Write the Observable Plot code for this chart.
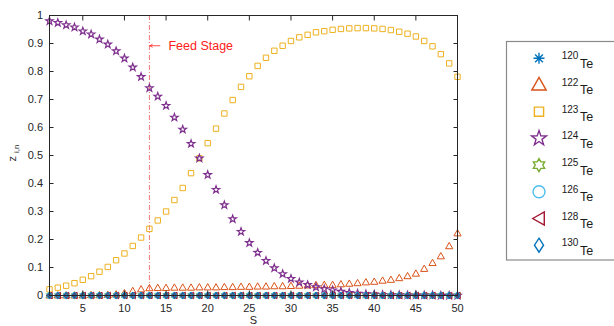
<!DOCTYPE html>
<html><head><meta charset="utf-8">
<script src="https://cdn.jsdelivr.net/npm/d3@7"></script>
<script src="https://cdn.jsdelivr.net/npm/@observablehq/plot@0.6"></script>
<style>
body{margin:0;background:#fff;}
#chart{position:relative;width:614px;height:326px;overflow:hidden;}
</style></head><body><div id="chart"></div>
<script>
const stages = [1,2,3,4,5,6,7,8,9,10,11,12,13,14,15,16,17,18,19,20,21,22,23,24,25,26,27,28,29,30,31,32,33,34,35,36,37,38,39,40,41,42,43,44,45,46,47,48,49,50];
const te120 = [0,0,0,0,0,0,0,0,0,0,0,0,0,0,0,0,0,0,0,0,0,0,0,0,0,0,0,0,0,0,0,0,0,0,0,0,0,0,0,0,0,0,0,0,0,0,0,0,0,0];
const te122 = [0,0,0,0,0,0.001,0.001,0.002,0.004,0.008,0.016,0.022,0.026,0.027,0.027,0.028,0.028,0.028,0.029,0.029,0.029,0.030,0.030,0.031,0.031,0.032,0.032,0.033,0.033,0.034,0.035,0.036,0.037,0.038,0.038,0.040,0.042,0.044,0.047,0.049,0.053,0.056,0.062,0.069,0.078,0.095,0.116,0.140,0.176,0.222];
const te123 = [0.022,0.028,0.035,0.044,0.056,0.069,0.085,0.102,0.126,0.150,0.177,0.207,0.238,0.268,0.300,0.341,0.384,0.437,0.490,0.544,0.596,0.650,0.698,0.745,0.783,0.820,0.849,0.874,0.892,0.909,0.922,0.931,0.940,0.944,0.949,0.952,0.954,0.955,0.955,0.954,0.952,0.948,0.942,0.935,0.925,0.909,0.890,0.862,0.829,0.781];
const te124 = [0.980,0.974,0.966,0.958,0.944,0.933,0.915,0.897,0.873,0.847,0.815,0.781,0.741,0.711,0.678,0.636,0.593,0.542,0.490,0.431,0.378,0.323,0.273,0.228,0.188,0.153,0.124,0.098,0.077,0.060,0.047,0.038,0.030,0.023,0.019,0.014,0.010,0.007,0.005,0.004,0.003,0.002,0.002,0.001,0.001,0.001,0.001,0,0,0];
const te125 = [0,0,0,0,0,0,0,0,0,0,0,0,0,0,0,0,0,0,0,0,0,0,0,0,0,0,0,0,0,0,0,0,0,0,0,0,0,0,0,0,0,0,0,0,0,0,0,0,0,0];
const te126 = [0,0,0,0,0,0,0,0,0,0,0,0,0,0,0,0,0,0,0,0,0,0,0,0,0,0,0,0,0,0,0,0,0,0,0,0,0,0,0,0,0,0,0,0,0,0,0,0,0,0];
const te128 = [0,0,0,0,0,0,0,0,0,0,0,0,0,0,0,0,0,0,0,0,0,0,0,0,0,0,0,0,0,0,0,0,0,0,0,0,0,0,0,0,0,0,0,0,0,0,0,0,0,0];
const te130 = [0,0,0,0,0,0,0,0,0,0,0,0,0,0,0,0,0,0,0,0,0,0,0,0,0,0,0,0,0,0,0,0,0,0,0,0,0,0,0,0,0,0,0,0,0,0,0,0,0,0];

const isotopes = ["120","122","123","124","125","126","128","130"];
const colors = ["#0072BD","#D95319","#EDB120","#7E2F8E","#77AC30","#4DBEEE","#A2142F","#0072BD"];
const xTicks = [5,10,15,20,25,30,35,40,45,50];
const yTicks = [0,0.1,0.2,0.3,0.4,0.5,0.6,0.7,0.8,0.9,1];
const feedStage = 13;
const feedLabel = "Feed Stage";
const annotY = 0.892;
const arrowStart = 14.25;

const Rr = s => Math.sqrt(s / Math.PI);
const symAsterisk = {draw(c, s){const r=Rr(s), d=r*0.707; c.moveTo(-r,0);c.lineTo(r,0);c.moveTo(0,-r);c.lineTo(0,r);c.moveTo(-d,-d);c.lineTo(d,d);c.moveTo(-d,d);c.lineTo(d,-d);}};
const symTriUp = {draw(c, s){const r=Rr(s); c.moveTo(0,-r*1.05); c.lineTo(r,r*0.7); c.lineTo(-r,r*0.7); c.closePath();}};
const symSquare = {draw(c, s){const r=Rr(s); c.rect(-r,-r,2*r,2*r);}};
const symStar5 = {draw(c, s){const r=Rr(s); for(let i=0;i<10;i++){const a=-Math.PI/2+i*Math.PI/5, q=i%2?r*0.4:r; const px=q*Math.cos(a), py=q*Math.sin(a); if(i===0)c.moveTo(px,py); else c.lineTo(px,py);} c.closePath();}};
const symStar6 = {draw(c, s){const r=Rr(s); for(let i=0;i<12;i++){const a=-Math.PI/2+i*Math.PI/6, q=i%2?r*0.58:r; const px=q*Math.cos(a), py=q*Math.sin(a); if(i===0)c.moveTo(px,py); else c.lineTo(px,py);} c.closePath();}};
const symCircle = {draw(c, s){const r=Rr(s); c.moveTo(r,0); c.arc(0,0,r,0,2*Math.PI);}};
const symTriLeft = {draw(c, s){const r=Rr(s); c.moveTo(-r*0.95,0); c.lineTo(r*0.8,-r); c.lineTo(r*0.8,r); c.closePath();}};
const symDiamond = {draw(c, s){const r=Rr(s); c.moveTo(0,-r); c.lineTo(r*0.65,0); c.lineTo(0,r); c.lineTo(-r*0.65,0); c.closePath();}};
const symbols = [symAsterisk, symTriUp, symSquare, symStar5, symStar6, symCircle, symTriLeft, symDiamond];
const series = [te120, te122, te123, te124, te125, te126, te128, te130];
const plotR = [3.3, 3.6, 2.7, 3.9, 3.6, 3, 3.3, 3.4];
const legendR = [5.5, 7.2, 4.6, 7.8, 6.5, 6, 6.6, 7];

const font = "'Liberation Sans', Arial, Helvetica, sans-serif";
const axisColor = "#262626";

const dots = series.map((vals, k) => Plot.dot(vals, {
  x: (d, i) => stages[i], y: d => d,
  symbol: symbols[k], r: plotR[k], stroke: colors[k], fill: "none", strokeWidth: k === 3 ? 1.2 : 1
}));

const svg = Plot.plot({
  width: 614, height: 326,
  marginLeft: 49, marginRight: 157, marginTop: 15, marginBottom: 31,
  x: {domain: [1, 50]},
  y: {domain: [0, 1]},
  style: {fontFamily: font, fontSize: "11px", color: axisColor, background: "white", overflow: "visible"},
  marks: [
    Plot.ruleX([feedStage], {stroke: "#ee4444", strokeOpacity: 0.8, strokeWidth: 0.9, strokeDasharray: "5,2,1,2"}),
    ...dots,
    Plot.frame({stroke: axisColor, strokeWidth: 1}),
    Plot.axisX({ticks: xTicks, tickSize: -4.5, tickPadding: 13.5, label: null, stroke: axisColor}),
    Plot.axisX({anchor: "top", ticks: xTicks, tickSize: -4.5, tickFormat: () => "", label: null, stroke: axisColor}),
    Plot.axisY({ticks: yTicks, tickSize: -4.5, tickPadding: 11, tickFormat: d => String(d), label: null, stroke: axisColor}),
    Plot.axisY({anchor: "right", ticks: yTicks, tickSize: -4.5, tickFormat: () => "", label: null, stroke: axisColor}),
    Plot.text(["S"], {frameAnchor: "bottom", text: d => d, lineAnchor: "top", dy: 20.5, fontSize: 11, fill: axisColor}),
    Plot.text(["z"], {frameAnchor: "left", text: d => d, rotate: -90, lineAnchor: "bottom", dx: -34, dy: 6, fontSize: 11, fill: axisColor}),
    Plot.text(["i,n"], {frameAnchor: "left", text: d => d, rotate: -90, lineAnchor: "bottom", dx: -30.5, dy: -2.5, fontSize: 8, fill: axisColor}),
    Plot.arrow([feedLabel], {x1: arrowStart, x2: feedStage, y1: annotY, y2: annotY, stroke: "#ff2020", strokeWidth: 0.8, headLength: 5, insetEnd: 0.5}),
    Plot.text([feedLabel], {x: feedStage, y: annotY, text: d => d, dx: 19, textAnchor: "start", fill: "#ff2020", fontSize: 12.5})
  ]
});

// Legend
const g = d3.select(svg).append("g").attr("font-family", font);
g.append("rect").attr("x", 506.5).attr("y", 41.5).attr("width", 130).attr("height", 218.5)
  .attr("fill", "white").attr("stroke", "#8a8a8a").attr("stroke-width", 1.2);
isotopes.forEach((iso, k) => {
  const cy = 58.3 + k * 26.7;
  g.append("path").attr("d", d3.symbol(symbols[k], Math.PI * legendR[k] * legendR[k])())
    .attr("transform", `translate(539,${cy})`).attr("fill", "none")
    .attr("stroke", colors[k]).attr("stroke-width", 1.4);
  const t = g.append("text").attr("x", 570).attr("fill", "#1a1a1a");
  t.append("tspan").attr("y", cy + 1).attr("font-size", 10).text(iso);
  t.append("tspan").attr("y", cy + 9.4).attr("font-size", 12.5).text("Te");
});

document.getElementById("chart").appendChild(svg);
</script></body></html>
